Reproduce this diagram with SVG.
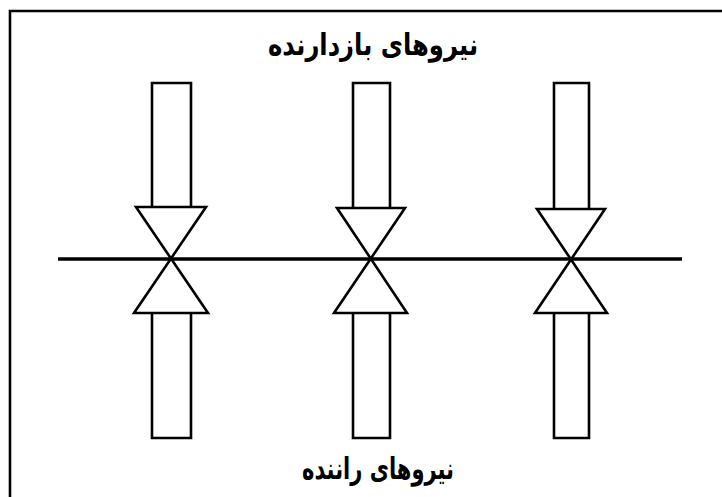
<svg xmlns="http://www.w3.org/2000/svg" width="722" height="497" viewBox="0 0 722 497">
<style>
.s{fill:none;stroke:#000;stroke-width:2.6;stroke-linejoin:miter}
.t{font-family:"DejaVu Sans","Noto Sans",sans-serif;font-weight:bold;font-size:30px;fill:#000;text-anchor:middle}
</style>
<rect width="722" height="497" fill="#fff"/>
<g id="frame"><path class="s" d="M10 497V11H722"/></g>
<g id="title-top"><text class="t" x="373" y="55" direction="rtl" textLength="210" lengthAdjust="spacingAndGlyphs">نیروهای بازدارنده</text></g>
<g id="title-bottom"><text class="t" x="378" y="479" direction="rtl" textLength="152" lengthAdjust="spacingAndGlyphs">نیروهای راننده</text></g>
<g id="connectors"><line x1="58" y1="259" x2="682" y2="259" stroke="#000" stroke-width="3.4"/></g>
<g id="node1">
<path class="s" d="M152 207V83H191V207"/>
<path class="s" d="M136 207H206L134 313H208Z"/>
<path class="s" d="M152 313V438H191V313"/>
</g>
<g id="node2">
<path class="s" d="M353 208V83H390V208"/>
<path class="s" d="M337 208H405L334 313H407Z"/>
<path class="s" d="M353 313V438H390V313"/>
</g>
<g id="node3">
<path class="s" d="M554 209V83H589V209"/>
<path class="s" d="M537 209H605L535 313H607Z"/>
<path class="s" d="M554 313V438H589V313"/>
</g>
</svg>
